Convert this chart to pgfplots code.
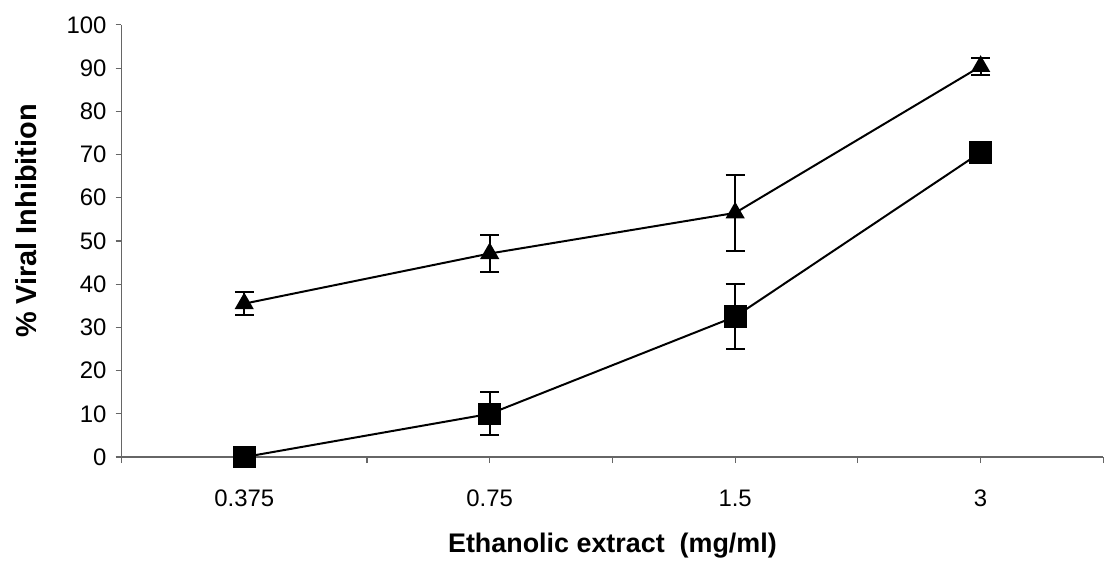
\documentclass[border=0pt]{standalone}
\usepackage{pgfplots}
\pgfplotsset{compat=1.18}
\usepackage{fontspec}
\setmainfont{Liberation Sans}

\begin{document}
\begin{tikzpicture}
\begin{axis}[
  scale only axis,
  width=493pt, height=217pt,
  xmin=0, xmax=4, ymin=0, ymax=100,
  axis lines=left,
  axis line style={-, draw=gray!80!black, line width=0.6pt},
  clip=false,
  xtick={0.5,1.5,2.5,3.5},
  xticklabels={0.375,0.75,1.5,3},
  extra x ticks={0,1,2,3,4},
  extra x tick labels={},
  ytick={0,10,...,100},
  tick align=outside,
  major tick length=3pt,
  tick style={gray!80!black, line width=0.6pt},
  xticklabel style={yshift=-10pt},
  yticklabel style={xshift=-1pt},
  font=\fontsize{12}{14}\selectfont,
  /pgf/number format/assume math mode=true,
  xlabel={\fontsize{13.5}{15}\selectfont\bfseries Ethanolic extract\ \ (mg/ml)},
  ylabel={\fontsize{14.5}{16}\selectfont\bfseries \% Viral Inhibition},
  xlabel style={at={(axis description cs:0.5,-0.205)}, anchor=center},
  ylabel style={at={(axis description cs:-0.097,0.546)}, anchor=center},
]
\addplot[black, line width=1pt, mark=triangle*, mark size=4.6pt,
  mark options={solid, fill=black},
  error bars/.cd, y dir=both, y explicit,
  error bar style={black, line width=1pt},
  error mark options={black, rotate=90, mark size=4.75pt, line width=1pt}]
  coordinates {
    (0.5,35.5) +- (0,2.7)
    (1.5,47.1) +- (0,4.3)
    (2.5,56.5) +- (0,8.8)
    (3.5,90.4) +- (0,2.0)
  };
\addplot[black, line width=1pt, mark=square*, mark size=5.2pt,
  mark options={solid, fill=black},
  error bars/.cd, y dir=both, y explicit,
  error bar style={black, line width=1pt},
  error mark options={black, rotate=90, mark size=4.75pt, line width=1pt}]
  coordinates {
    (0.5,0)    +- (0,1.5)
    (1.5,10)   +- (0,5.0)
    (2.5,32.5) +- (0,7.5)
    (3.5,70.5) +- (0,1.5)
  };
\end{axis}
\path (-61pt,-54pt) rectangle (494pt,229.5pt);
\end{tikzpicture}
\end{document}
